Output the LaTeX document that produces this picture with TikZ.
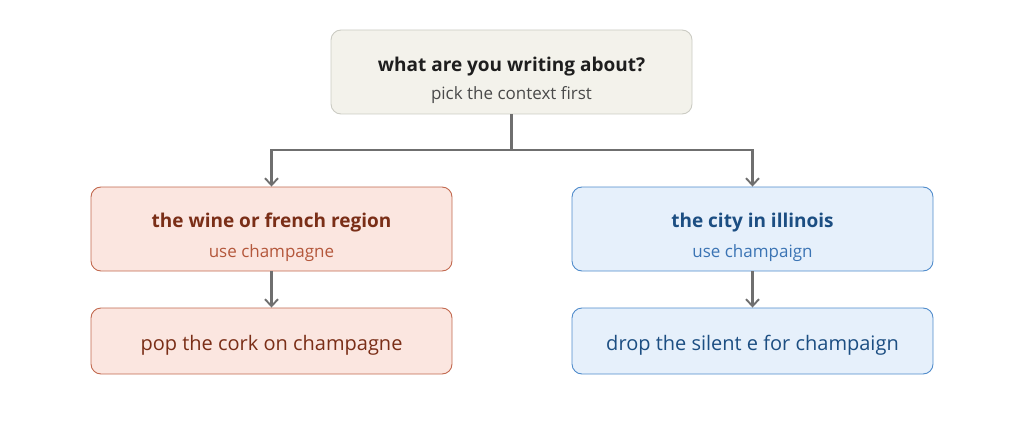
\documentclass[tikz,border=0pt]{standalone}
\usepackage{fontspec}
\setmainfont{Open Sans}
\usetikzlibrary{arrows.meta}
\definecolor{topfill}{HTML}{F3F2EB}
\definecolor{topdraw}{HTML}{CBCBC3}
\definecolor{topt}{HTML}{1E1E1E}
\definecolor{tops}{HTML}{4A4A4A}
\definecolor{redfill}{HTML}{FBE6E0}
\definecolor{reddraw}{HTML}{C2694F}
\definecolor{redt}{HTML}{7A2E17}
\definecolor{reds}{HTML}{B4573B}
\definecolor{bluefill}{HTML}{E6F0FB}
\definecolor{bluedraw}{HTML}{4F8BCB}
\definecolor{bluet}{HTML}{1C4E82}
\definecolor{blues}{HTML}{3B74B4}
\definecolor{arr}{HTML}{6F6F6F}
\tikzset{
  boxbase/.style={rounded corners=10pt, minimum width=361pt, line width=0.9pt, align=center, inner sep=0pt},
  topbox/.style={boxbase, fill=topfill, draw=topdraw, minimum height=84pt},
  redbox/.style={boxbase, fill=redfill, draw=reddraw, minimum height=84pt},
  bluebox/.style={boxbase, fill=bluefill, draw=bluedraw, minimum height=84pt},
  redleaf/.style={boxbase, fill=redfill, draw=reddraw, minimum height=66pt, text=redt, font=\fontsize{20}{24}\selectfont},
  blueleaf/.style={boxbase, fill=bluefill, draw=bluedraw, minimum height=66pt, text=bluet, font=\fontsize{20}{24}\selectfont},
  conn/.style={draw=arr, line width=2.2pt, -{Straight Barb[length=7pt,width=13pt,line width=1.9pt]}},
}
\newcommand{\ttl}[2]{{\fontsize{19}{22}\selectfont\bfseries\color{#1}\rule{0pt}{31pt}#2}}
\newcommand{\sbt}[2]{{\fontsize{17}{20}\selectfont\color{#1}#2}}
\newcommand{\lf}[1]{\rule{0pt}{23pt}#1}
\begin{document}
\begin{tikzpicture}[x=1pt,y=-1pt]
\useasboundingbox (0,0) rectangle (1024,422);
\node[topbox] (q) at (511.5,72) {\ttl{topt}{what are you writing about?}\\[10pt]\sbt{tops}{pick the context first}};
\node[redbox] (w) at (271.5,229) {\ttl{redt}{the wine or french region}\\[11pt]\sbt{reds}{use champagne}};
\node[bluebox] (c) at (752.5,229) {\ttl{bluet}{the city in illinois}\\[11pt]\sbt{blues}{use champaign}};
\node[redleaf] (wl) at (271.5,341) {\lf{pop the cork on champagne}};
\node[blueleaf] (cl) at (752.5,341) {\lf{drop the silent e for champaign}};
\coordinate (mid) at (511.5,150);
\draw[conn] (q.south) -- (mid) -| (w.north);
\draw[conn] (q.south) -- (mid) -| (c.north);
\draw[conn] (w.south) -- (wl.north);
\draw[conn] (c.south) -- (cl.north);
\end{tikzpicture}
\end{document}
